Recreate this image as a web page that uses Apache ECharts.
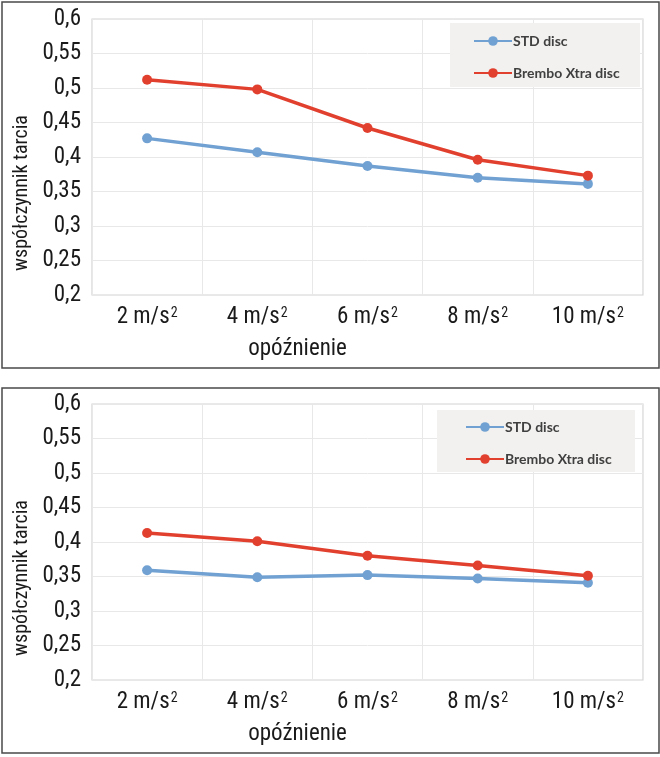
<!DOCTYPE html>
<html>
<head>
<meta charset="utf-8">
<script src="https://cdn.jsdelivr.net/npm/echarts@6/dist/echarts.min.js"></script>
<style>html,body{margin:0;padding:0;background:#fff}#c{width:660px;height:757px}</style>
</head>
<body>
<div id="c"></div>
<script>
const categories = ['2', '4', '6', '8', '10'];
const seriesNames = ['STD disc', 'Brembo Xtra disc'];
const top_std = [0.427, 0.407, 0.387, 0.370, 0.361];
const top_brembo = [0.512, 0.498, 0.442, 0.396, 0.373];
const bot_std = [0.359, 0.349, 0.352, 0.347, 0.341];
const bot_brembo = [0.413, 0.401, 0.380, 0.366, 0.351];
const yTicks = [0.2, 0.6, 0.05];
const yName = 'współczynnik tarcia';
const xName = 'opóźnienie';

const FONT = '"Roboto Condensed","DejaVu Sans Condensed",sans-serif';
const FW = 'normal';
const BLUE = '#70a1d2', RED = '#e2402f';
const TXT = '#1a1a1a';

function xAxis(gi) {
  return {
    type: 'category', gridIndex: gi, data: categories, boundaryGap: true,
    axisLine: {show: false}, axisTick: {show: false},
    splitLine: {show: true, interval: 0, lineStyle: {color: '#e8e8e8', width: 1}},
    axisLabel: {
      margin: 10, interval: 0,
      formatter: v => '{a|' + v + ' m/s}{s|2}',
      rich: {
        a: {fontFamily: FONT, fontWeight: FW, fontSize: 23, color: TXT, verticalAlign: 'bottom', lineHeight: 24},
        s: {fontFamily: FONT, fontWeight: FW, fontSize: 14, color: TXT, verticalAlign: 'bottom', lineHeight: 24, padding: [0, 0, 9, 1]}
      }
    },
    name: xName, nameLocation: 'middle', nameGap: 43,
    nameTextStyle: {fontFamily: FONT, fontWeight: FW, fontSize: 23, color: TXT, padding: [0, 140, 0, 0]}
  };
}
function yAxis(gi) {
  return {
    type: 'value', gridIndex: gi, min: yTicks[0], max: yTicks[1], interval: yTicks[2],
    axisLine: {show: false}, axisTick: {show: false},
    splitLine: {show: true, lineStyle: {color: '#e8e8e8', width: 1}},
    axisLabel: {
      margin: 11, fontFamily: FONT, fontWeight: FW, fontSize: 23, color: TXT,
      formatter: v => String(Math.round(v * 100) / 100).replace('.', ',')
    },
    name: yName, nameLocation: 'middle', nameGap: 60, nameRotate: 90,
    nameTextStyle: {fontFamily: FONT, fontWeight: FW, fontSize: 20, color: TXT, padding: [0, 72, 0, 0]}
  };
}
function line(name, data, color, gi) {
  return {
    type: 'line', name: name, data: data, xAxisIndex: gi, yAxisIndex: gi,
    symbol: 'circle', symbolSize: 10, showSymbol: true,
    lineStyle: {color: color, width: 3.5}, itemStyle: {color: color},
    emphasis: {disabled: true}, animation: false
  };
}
function legend(left, top) {
  return {
    data: seriesNames, orient: 'vertical', left: left, top: top,
    padding: 0, z: 5,
    itemWidth: 38, itemHeight: 12, itemGap: 16,
    textStyle: {fontFamily: 'Lato,"Open Sans",sans-serif', fontSize: 14, fontWeight: 'bold', color: '#404040', padding: [0, 0, 0, -4], lineHeight: 16}
  };
}

const chart = echarts.init(document.getElementById('c'), null, {renderer: 'canvas'});
chart.setOption({
  animation: false,
  grid: [
    {left: 92, top: 19, right: 17, height: 276, show: true, borderColor: '#d4d4d4', borderWidth: 1.2},
    {left: 92, top: 404, right: 17, height: 276, show: true, borderColor: '#d4d4d4', borderWidth: 1.2}
  ],
  xAxis: [xAxis(0), xAxis(1)],
  yAxis: [yAxis(0), yAxis(1)],
  legend: [legend(473, 33), legend(465, 419)],
  series: [
    line(seriesNames[0], top_std, BLUE, 0),
    line(seriesNames[1], top_brembo, RED, 0),
    line(seriesNames[0], bot_std, BLUE, 1),
    line(seriesNames[1], bot_brembo, RED, 1)
  ],
  graphic: [
    {type: 'rect', z: 3, shape: {x: 450, y: 23, width: 190, height: 64}, style: {fill: '#f2f1ef'}, silent: true},
    {type: 'rect', z: 3, shape: {x: 437, y: 410, width: 198, height: 62}, style: {fill: '#f2f1ef'}, silent: true},
    {type: 'rect', shape: {x: 2, y: 2, width: 657, height: 366}, style: {fill: 'none', stroke: '#4a4a4a', lineWidth: 1.5}, silent: true},
    {type: 'rect', shape: {x: 2, y: 388, width: 657, height: 365}, style: {fill: 'none', stroke: '#4a4a4a', lineWidth: 1.5}, silent: true}
  ]
});
</script>
</body>
</html>
